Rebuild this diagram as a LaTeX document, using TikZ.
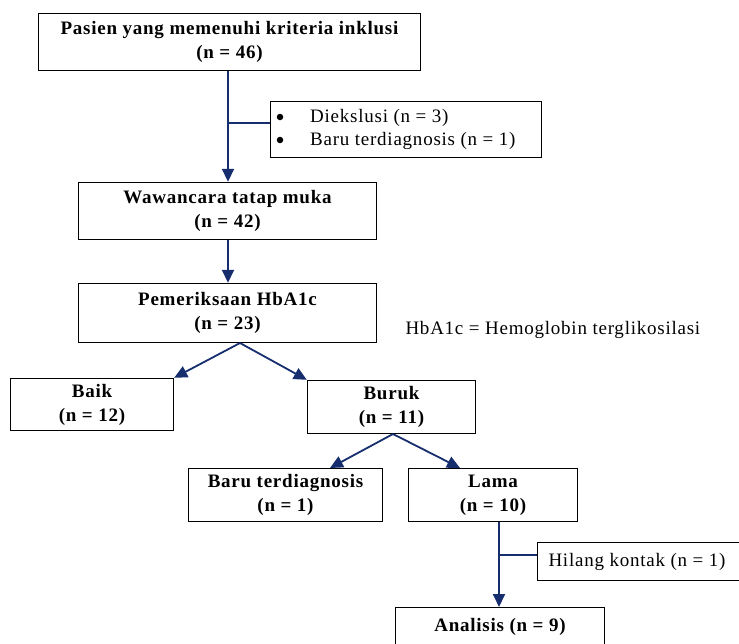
\documentclass[tikz,border=0pt]{standalone}
\usepackage{fontspec}
\setmainfont{Liberation Serif}[LetterSpace=4]
\usetikzlibrary{arrows.meta}
\definecolor{navy}{RGB}{22,46,110}
\begin{document}
\begin{tikzpicture}[x=1pt,y=-1pt,
  txt/.style={font=\fontsize{19}{24}\selectfont},
  box/.style={draw=black,line width=1.4pt,inner sep=0pt,align=center,font=\fontsize{19}{24}\selectfont\bfseries},
  nbox/.style={draw=black,line width=1.4pt,inner sep=0pt},
  bul/.style={fill=black,circle,inner sep=0pt,minimum size=6.5pt},
  conn/.style={draw=navy,line width=1.8pt},
  arr/.style={conn,-{Triangle[width=12pt,length=13pt]}}]
\useasboundingbox (0,0) rectangle (739,643);
% boxes
\node[box,minimum width=382pt,minimum height=57pt] (b1) at (229.5,42) {Pasien yang memenuhi kriteria inklusi\\(n = 46)};
\node[nbox,minimum width=271pt,minimum height=56pt] (excl) at (406,129.5) {};
\node[bul] (d1) at (280,117) {};
\node[bul] (d2) at (280,140) {};
\node[font=\fontsize{19}{23}\selectfont,align=left,anchor=west,inner sep=0pt] (el) at (310,129) {Diekslusi (n = 3)\\Baru terdiagnosis (n = 1)};
\node[box,minimum width=298pt,minimum height=57pt] (b2) at (227.5,211) {Wawancara tatap muka\\(n = 42)};
\node[box,minimum width=298pt,minimum height=59pt] (b3) at (227.5,313) {Pemeriksaan HbA1c\\(n = 23)};
\node[txt,anchor=west] (note) at (402,330) {HbA1c = Hemoglobin terglikosilasi};
\node[box,minimum width=163pt,minimum height=52pt] (baik) at (92,404.5) {Baik\\(n = 12)};
\node[box,minimum width=168pt,minimum height=53pt] (buruk) at (391.5,407) {Buruk\\(n = 11)};
\node[box,minimum width=194pt,minimum height=53pt] (baru) at (285.5,495) {Baru terdiagnosis\\(n = 1)};
\node[box,minimum width=169pt,minimum height=53pt] (lama) at (493,495) {Lama\\(n = 10)};
\node[nbox,minimum width=202pt,minimum height=38pt,anchor=west] (hil) at (537,561.5) {};
\node[txt,anchor=west] (hilt) at (545,561.5) {Hilang kontak (n = 1)};
\node[nbox,minimum width=209pt,minimum height=42pt,anchor=north] (ana) at (500,607) {};
\node[txt,font=\fontsize{19}{24}\selectfont\bfseries] (anat) at (500,627) {Analisis (n = 9)};
% connectors
\coordinate (s1) at (228,71);
\coordinate (j1) at (228,123);
\draw[arr] (s1) -- (s1 |- b2.north);
\draw[conn] (j1) -- (j1 -| excl.west);
\draw[arr] (s1 |- b2.south) -- (s1 |- b3.north);
\coordinate (s3) at (240,343);
\draw[arr] (s3) -- (baik.north east);
\draw[arr] (s3) -- (buruk.north west);
\coordinate (s4) at (393,434);
\coordinate (t4a) at (330,468);
\coordinate (t4b) at (460,468);
\draw[arr] (s4) -- (t4a);
\draw[arr] (s4) -- (t4b);
\coordinate (s5) at (499,522);
\coordinate (j5) at (499,555);
\draw[arr] (s5) -- (s5 |- ana.north);
\draw[conn] (j5) -- (j5 -| hil.west);
\end{tikzpicture}
\end{document}
